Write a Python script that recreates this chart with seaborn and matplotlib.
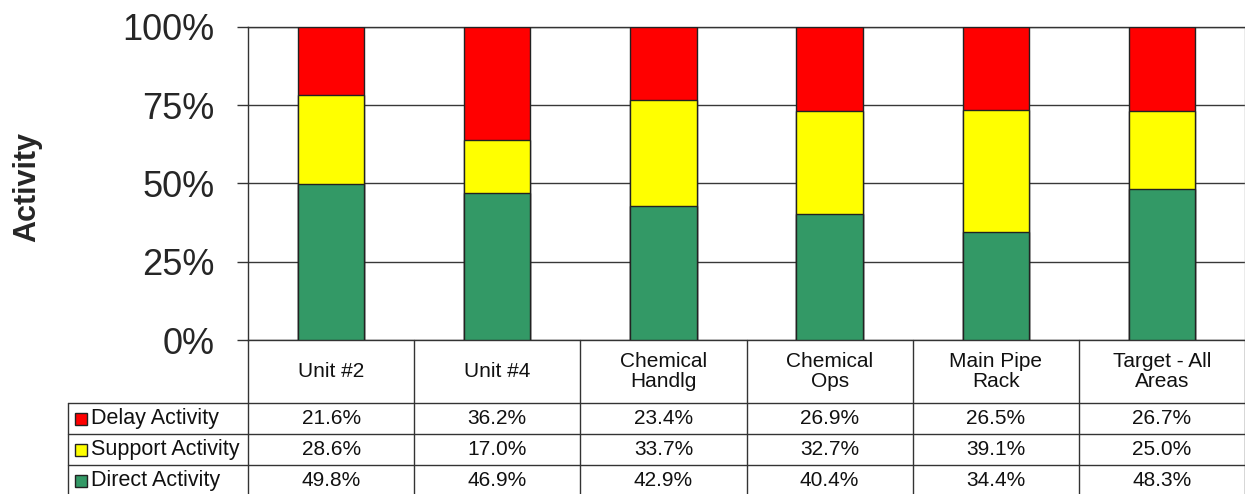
import matplotlib
matplotlib.use("Agg")
import matplotlib.pyplot as plt
import seaborn as sns
import pandas as pd

categories = ["Unit #2", "Unit #4", "Chemical\nHandlg", "Chemical\nOps", "Main Pipe\nRack", "Target - All\nAreas"]
series_names = ["Delay Activity", "Support Activity", "Direct Activity"]
delay = [21.6, 36.2, 23.4, 26.9, 26.5, 26.7]
support = [28.6, 17.0, 33.7, 32.7, 39.1, 25.0]
direct = [49.8, 46.9, 42.9, 40.4, 34.4, 48.3]
colors = {"Delay Activity": "#FF0000", "Support Activity": "#FFFF00", "Direct Activity": "#339966"}
yticks = [0, 25, 50, 75, 100]

sns.set_style("white")
plt.rcParams["font.family"] = ["Liberation Sans", "DejaVu Sans"]

df = pd.DataFrame({"cat": categories, "Delay Activity": delay,
                   "Support Activity": support, "Direct Activity": direct})
df["top_direct"] = df["Direct Activity"]
df["top_support"] = df["top_direct"] + df["Support Activity"]
df["top_delay"] = df["top_support"] + df["Delay Activity"]

W, H = 1245, 494
fig = plt.figure(figsize=(W / 100, H / 100), dpi=100)
left, right, top, bottom = 248, 1245, 27, 340
ax = fig.add_axes([left / W, 1 - bottom / H, (right - left) / W, (bottom - top) / H])

# stacked bars: draw cumulative totals from top layer down
for col, name in [("top_delay", "Delay Activity"), ("top_support", "Support Activity"),
                  ("top_direct", "Direct Activity")]:
    sns.barplot(data=df, x="cat", y=col, color=colors[name], width=0.4,
                edgecolor="#222222", linewidth=1, saturation=1, ax=ax, zorder=3)

ax.set_ylim(0, 100)
ax.set_xlim(-0.5, len(categories) - 0.5)
ax.set_yticks(yticks)
ax.set_yticklabels([f"{t}%" for t in yticks], fontsize=26)
ax.set_xticks([])
ax.set_xlabel("")
ax.set_ylabel("Activity", fontsize=22, fontweight="bold")
ax.yaxis.set_label_coords((42 - left) / (right - left), 0.49)
ax.tick_params(axis="y", direction="out", length=8, width=1, pad=16, color="#333333", left=True)
ax.yaxis.grid(True, color="#383838", linewidth=1, zorder=0)
for s in ["top", "bottom", "left", "right"]:
    ax.spines[s].set_visible(True)
    ax.spines[s].set_color("#333333")
    ax.spines[s].set_linewidth(1)
ax.spines["right"].set_color("#999999")

# data table below the plot, sharing the category x scale
px = (right - left) / len(categories)  # pixels per category
tab_h = H - bottom
tax = fig.add_axes([left / W, 0, (right - left) / W, tab_h / H], sharex=ax)
tax.set_ylim(tab_h, 0)
tax.axis("off")
row_edges = [0, 63, 94, 125, 156]
lab_left = -0.5 - 180 / px
x_hi = len(categories) - 0.5

for i in range(len(categories) + 1):
    tax.plot([i - 0.5, i - 0.5], [0, tab_h], color="#333333", lw=1, clip_on=False)
tax.plot([lab_left, lab_left], [row_edges[1], tab_h], color="#333333", lw=1, clip_on=False)
for y in row_edges[1:]:
    tax.plot([lab_left, x_hi], [y, y], color="#333333", lw=1, clip_on=False)

for i, c in enumerate(categories):
    tax.text(i, row_edges[1] / 2, c, ha="center", va="center", fontsize=15,
             linespacing=1.05, color="#111111")

rows = [delay, support, direct]
for r, (name, vals) in enumerate(zip(series_names, rows)):
    yc = (row_edges[r + 1] + row_edges[r + 2]) / 2
    tax.plot(-0.5 - (left - 81) / px, yc, marker="s", ms=8, mfc=colors[name],
             mec="#222222", mew=1, clip_on=False)
    tax.text(-0.5 - (left - 91) / px, yc, name, ha="left", va="center",
             fontsize=15.5, color="#111111", clip_on=False)
    for i, v in enumerate(vals):
        tax.text(i, yc, f"{v:.1f}%", ha="center", va="center", fontsize=15,
                 color="#111111", clip_on=False)

fig.savefig("out.png", dpi=100)
